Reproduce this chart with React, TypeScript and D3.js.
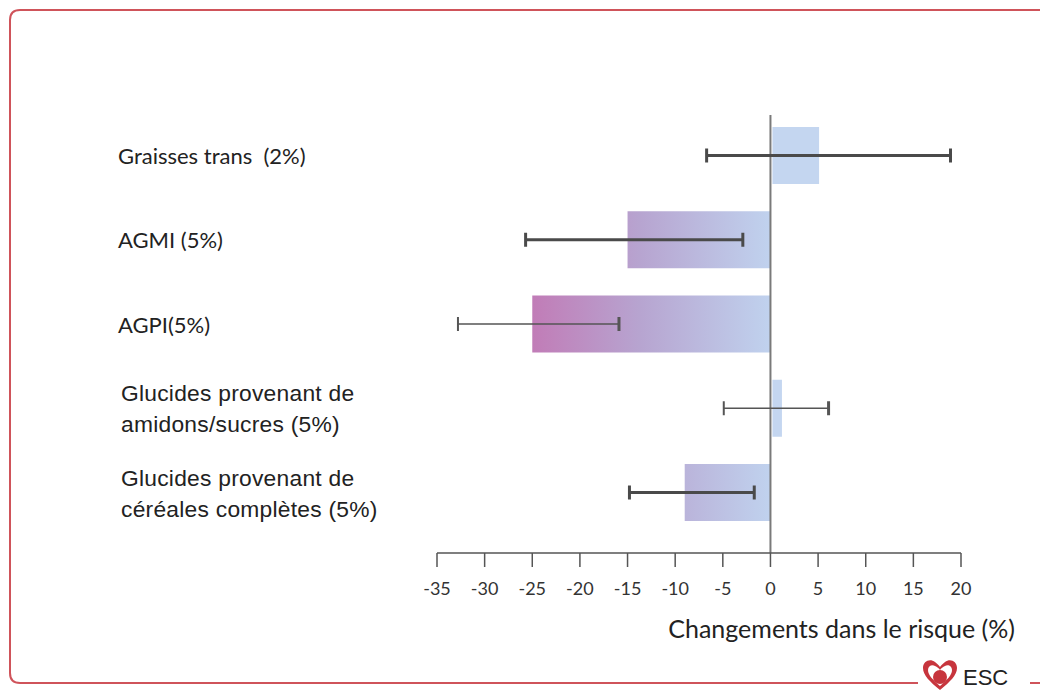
import React from "react";
import * as d3 from "d3";

const categories = [
  ["Graisses trans\u00a0\u00a0(2%)"],
  ["AGMI (5%)"],
  ["AGPI(5%)"],
  ["Glucides provenant de", "amidons/sucres (5%)"],
  ["Glucides provenant de", "céréales complètes (5%)"],
];
const values = [5, -15, -25, 1.1, -9];
const ciLow = [-6.7, -25.7, -32.8, -4.9, -14.8];
const ciHigh = [18.9, -2.9, -15.9, 6.1, -1.7];
const thickCI = [true, true, false, false, true];
const ticks = [-35, -30, -25, -20, -15, -10, -5, 0, 5, 10, 15, 20];
const axisTitle = "Changements dans le risque (%)";

const W = 1040;
const H = 690;

export default function App() {
  const x = d3.scaleLinear().domain([-35, 20]).range([437, 961]);
  const y = d3
    .scalePoint<number>()
    .domain(categories.map((_, i) => i))
    .range([155.5, 492.5]);
  const barH = 57;
  const axisY = 553;
  const red = "#c7353d";

  return (
    <svg
      width={W}
      height={H}
      style={{ position: "absolute", left: 0, top: 0, background: "#fff" }}
    >
      <defs>
        <linearGradient
          id="neg"
          gradientUnits="userSpaceOnUse"
          x1={x(-25)}
          x2={x(0)}
          y1={0}
          y2={0}
        >
          <stop offset="0" stopColor="#c17cb7" />
          <stop offset="0.45" stopColor="#b7a4d0" />
          <stop offset="1" stopColor="#c0d2ee" />
        </linearGradient>
      </defs>
      {/* frame */}
      <path
        d={`M1045,10 L20,10 Q10,10 10,20 L10,673 Q10,683 20,683 L918,683 M1030,683 L1045,683`}
        fill="none"
        stroke={red}
        strokeWidth={2}
        opacity={0.85}
      />
      {/* ESC logo */}
      <g>
        <path
          d="M940,690 C930,682 923,675 923,668 C923,661 930,658 935,662 C937,664 939,665 940,667 C941,665 943,664 945,662 C950,658 957,661 957,668 C957,675 950,682 940,690 Z"
          fill={red}
        />
        <path
          d="M940,686 C933,680 928,675 928,670 C928,666 932,664 935,666 C937,667 939,668 940,670 C941,668 943,667 945,666 C948,664 952,666 952,670 C952,675 947,680 940,686 Z"
          fill="#fff"
        />
        <circle cx={940} cy={677} r={7} fill={red} />
        <text
          x={963}
          y={685}
          fontFamily="'Liberation Sans', Arial, sans-serif"
          fontSize={22}
          fill="#222"
        >
          ESC
        </text>
      </g>

      {/* bars */}
      {values.map((v, i) => {
        const x0 = Math.min(x(0), x(v));
        const w = Math.abs(x(v) - x(0));
        return (
          <rect
            key={"b" + i}
            x={v > 0 ? x0 + 2 : x0}
            y={(y(i) as number) - barH / 2}
            width={v > 0 ? w - 1 : w}
            height={barH}
            fill={v < 0 ? "url(#neg)" : "#c4d6f0"}
          />
        );
      })}

      {/* zero line */}
      <line x1={x(0)} x2={x(0)} y1={115} y2={axisY} stroke="#7a7a7a" strokeWidth={2} />

      {/* error bars */}
      {values.map((_, i) => {
        const cy = y(i) as number;
        const sw = thickCI[i] ? 3 : 1.6;
        const col = thickCI[i] ? "#4a4a4a" : "#555";
        return (
          <g key={"e" + i} stroke={col} strokeWidth={sw}>
            <line x1={x(ciLow[i])} x2={x(ciHigh[i])} y1={cy} y2={cy} />
            <line x1={x(ciLow[i])} x2={x(ciLow[i])} y1={cy - 7} y2={cy + 7} strokeWidth={thickCI[i] ? 3 : 2} />
            <line x1={x(ciHigh[i])} x2={x(ciHigh[i])} y1={cy - 7} y2={cy + 7} strokeWidth={3} />
          </g>
        );
      })}

      {/* axis */}
      <line x1={x(-35)} x2={x(20)} y1={axisY} y2={axisY} stroke="#555" strokeWidth={1.5} />
      {ticks.map((t) => (
        <g key={"t" + t}>
          <line x1={x(t)} x2={x(t)} y1={axisY} y2={axisY + 14} stroke="#555" strokeWidth={1.5} />
          <text
            x={x(t)}
            y={axisY + 42}
            textAnchor="middle"
            fontFamily="Lato, 'Open Sans', sans-serif"
            fontSize={18}
            fill="#333"
          >
            {t < 0 ? "-" + Math.abs(t) : String(t)}
          </text>
        </g>
      ))}
      <text
        x={1015}
        y={638}
        textAnchor="end"
        fontFamily="Lato, 'Open Sans', sans-serif"
        fontSize={25}
        fill="#222"
      >
        {axisTitle}
      </text>

      {/* labels */}
      {categories.map((lines, i) => {
        const cy = y(i) as number;
        const lh = 31;
        const multi = lines.length > 1;
        const x0 = multi ? 121 : 118;
        const start = cy - ((lines.length - 1) * lh) / 2;
        return (
          <text
            key={"l" + i}
            fontFamily={multi ? "'Liberation Sans', Arial, sans-serif" : "Lato, sans-serif"}
            fontSize={multi ? 22.8 : 22}
            letterSpacing={multi ? 0.25 : 0}
            fill="#222"
          >
            {lines.map((ln, j) => (
              <tspan key={j} x={x0} y={start + j * lh + 8.5}>
                {ln}
              </tspan>
            ))}
          </text>
        );
      })}
    </svg>
  );
}
